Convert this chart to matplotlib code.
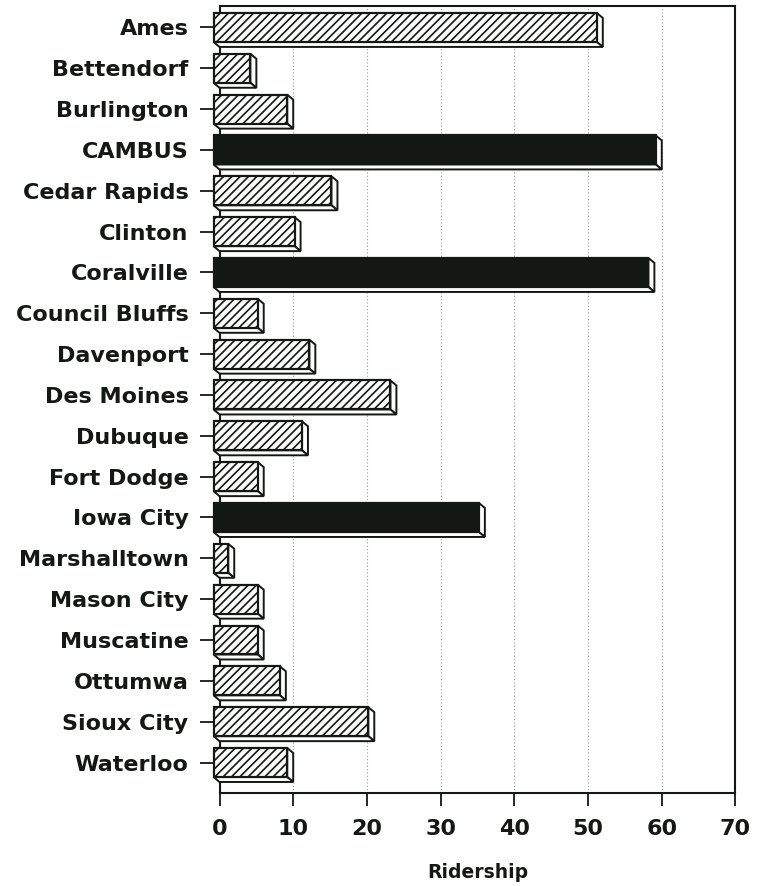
import numpy as np
import matplotlib
matplotlib.use('Agg')
import matplotlib.pyplot as plt
from matplotlib.patches import Polygon, Rectangle

# ridership by system
cities = ['Ames', 'Bettendorf', 'Burlington', 'CAMBUS', 'Cedar Rapids',
          'Clinton', 'Coralville', 'Council Bluffs', 'Davenport',
          'Des Moines', 'Dubuque', 'Fort Dodge', 'Iowa City',
          'Marshalltown', 'Mason City', 'Muscatine', 'Ottumwa',
          'Sioux City', 'Waterloo']
ridership = [52, 5, 10, 60, 16, 11, 59, 6, 13, 24, 12, 6, 36, 2, 6, 6, 9, 21, 10]
# systems drawn solid
solid = ['CAMBUS', 'Coralville', 'Iowa City']
xticks = [0, 10, 20, 30, 40, 50, 60, 70]

INK = '#141814'

plt.rcParams['font.family'] = ['DejaVu Sans']
plt.rcParams['font.weight'] = 'bold'
plt.rcParams['hatch.linewidth'] = 1.2
plt.rcParams['hatch.color'] = INK

fig = plt.figure(figsize=(7.59, 8.86), dpi=100)
ax = fig.add_axes([0.2892, 0.1050, 0.6798, 0.8883])

# depth of the 3d bars (data units) and bar thickness
DX, DY = 0.81, 0.122
H = 0.71

for i, (name, v) in enumerate(zip(cities, ridership)):
    top, bot = i - H / 2, i + H / 2
    dark = name in solid
    # right side
    side = Polygon([(v - DX, top - DY), (v, top), (v, bot), (v - DX, bot - DY)],
                   closed=True, facecolor='white', edgecolor=INK, lw=1.4,
                   joinstyle='miter', clip_on=False, zorder=3)
    # underside
    under = Polygon([(-DX, bot - DY), (v - DX, bot - DY), (v, bot), (0, bot)],
                    closed=True, facecolor='white', edgecolor=INK, lw=1.4,
                    joinstyle='miter', clip_on=False, zorder=3)
    front = Rectangle((-DX, top - DY), v, H,
                      facecolor=INK if dark else 'white',
                      edgecolor=INK, lw=1.6, hatch=None if dark else '////',
                      joinstyle='miter', clip_on=False, zorder=4)
    ax.add_patch(side)
    ax.add_patch(under)
    ax.add_patch(front)

ax.set_xlim(0, 70)
ax.set_ylim(18.624, -0.649)

ax.set_xticks(xticks)
ax.set_xticklabels([str(t) for t in xticks], fontsize=16, color=INK)
ax.set_yticks(np.arange(len(cities)) - DY)
ax.set_yticklabels(cities, fontsize=16, color=INK)

ax.tick_params(axis='y', length=14.4, width=1.3, pad=8, color=INK)
ax.tick_params(axis='x', length=9, width=1.3, pad=10, color=INK)

ax.grid(axis='x', color='#9a9a9a', linestyle=(0, (1, 2)), lw=0.8)
ax.set_axisbelow(True)

for s in ax.spines.values():
    s.set_linewidth(1.5)
    s.set_color(INK)

ax.set_xlabel('Ridership', fontsize=13.5, fontweight='bold', color=INK,
              labelpad=17)

fig.savefig('out.png', dpi=100, facecolor='white')
